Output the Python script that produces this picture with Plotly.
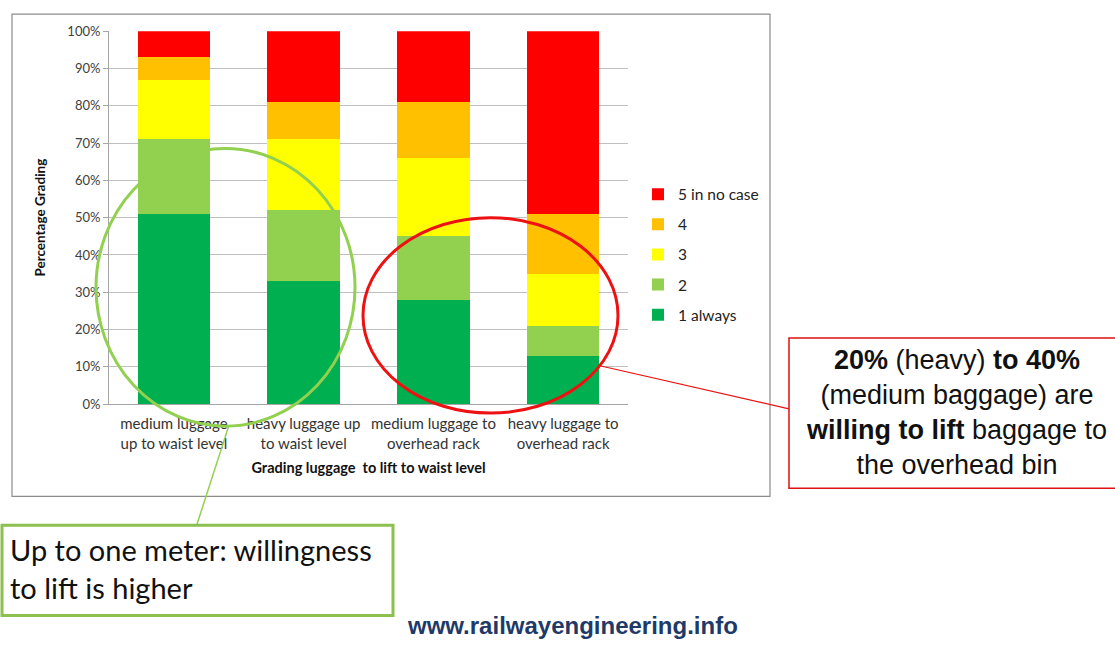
import plotly.graph_objects as go

W, H = 1115, 645
# measured placement of the page's drawing area inside the photographed window
Y_TOP, Y_SPAN = 7.8, 627.6

categories = ["medium luggage<br>up to waist level", "heavy luggage up<br>to waist level",
              "medium luggage to<br>overhead rack", "heavy luggage to<br>overhead rack"]
grade1 = [51, 33, 28, 13]
grade2 = [20, 19, 17, 8]
grade3 = [16, 19, 21, 14]
grade4 = [6, 10, 15, 16]
grade5 = [7, 19, 19, 49]
series_names = ["1 always", "2", "3", "4", "5 in no case"]
series_colors = ["#00b050", "#92d050", "#ffff00", "#ffc000", "#ff0000"]
series_values = [grade1, grade2, grade3, grade4, grade5]
y_ticks = [0, 10, 20, 30, 40, 50, 60, 70, 80, 90, 100]
y_ticklabels = [f"{t}%" for t in y_ticks]


def px(x):
    return x / W


def py(y):
    return 1 - (y - Y_TOP) / Y_SPAN


fig = go.Figure()
n = len(series_names)
for i, (name, col, vals) in enumerate(zip(series_names, series_colors, series_values)):
    fig.add_trace(go.Bar(x=categories, y=vals, name=name, marker_color=col,
                         marker_line_width=0, legendgroup=f"g{i}", legendrank=n - i))

base_font = "Lato, Carlito, sans-serif"
fig.update_layout(
    width=W, height=H, barmode="stack", bargap=0.44,
    margin=dict(l=0, r=0, t=0, b=0),
    paper_bgcolor="white", plot_bgcolor="white",
    font=dict(family=base_font, size=12, color="#222"),
    showlegend=True,
    legend=dict(x=px(638), y=py(177), xanchor="left", yanchor="top",
                tracegroupgap=7,
                font=dict(family=base_font, size=15.5, color="#222"),
                itemwidth=30, bgcolor="rgba(0,0,0,0)"),
    xaxis=dict(domain=[px(109), px(628)], showgrid=False, showline=True,
               linecolor="#a6a6a6", linewidth=1, ticks="", ticklabelstandoff=6,
               tickfont=dict(family=base_font, size=15, color="#333"),
               title=dict(text="<b>Grading luggage  to lift to waist level</b>",
                          font=dict(family=base_font, size=14.5, color="#111"), standoff=12)),
    yaxis=dict(domain=[py(403), py(31)], range=[0, 100], tickvals=y_ticks,
               ticktext=y_ticklabels, showgrid=True, gridcolor="#bfbfbf", gridwidth=1,
               showline=True, linecolor="#a6a6a6", ticks="outside", ticklen=5,
               tickcolor="#a6a6a6", tickfont=dict(family=base_font, size=13, color="#404040"),
               zeroline=False,
               title=dict(text="<b>Percentage Grading</b>",
                          font=dict(family=base_font, size=13.5, color="#111"), standoff=18)),
)

shapes = []
# chart frame
shapes.append(dict(type="rect", xref="paper", yref="paper", x0=px(12), x1=px(770),
                   y0=py(495), y1=py(14), line=dict(color="#8c8c8c", width=1.2)))
# green ellipse
shapes.append(dict(type="circle", xref="paper", yref="paper", x0=px(96), x1=px(355),
                   y0=py(425), y1=py(148), line=dict(color="#92d050", width=3)))
# red ellipse
shapes.append(dict(type="circle", xref="paper", yref="paper", x0=px(363), x1=px(618),
                   y0=py(412), y1=py(217), line=dict(color="#ee1111", width=3)))
# green connector
shapes.append(dict(type="line", xref="paper", yref="paper", x0=px(197), y0=py(523),
                   x1=px(229), y1=py(424), line=dict(color="#92d050", width=1.5)))
# red connector
shapes.append(dict(type="line", xref="paper", yref="paper", x0=px(601), y0=py(365),
                   x1=px(790), y1=py(408), line=dict(color="#ee1111", width=1.2)))
# green box
shapes.append(dict(type="rect", xref="paper", yref="paper", x0=px(2), x1=px(393),
                   y0=py(614), y1=py(524), line=dict(color="#8cc04f", width=3),
                   fillcolor="white"))
# red box
shapes.append(dict(type="rect", xref="paper", yref="paper", x0=px(789), x1=px(1125),
                   y0=py(487), y1=py(337), line=dict(color="#dd1111", width=1.5),
                   fillcolor="white"))
fig.update_layout(shapes=shapes)

annotations = [
    dict(xref="paper", yref="paper", x=px(8), y=py(567), xanchor="left", yanchor="middle",
         align="left", showarrow=False,
         text="Up to one meter: willingness<br>to lift is higher",
         font=dict(family="Lato, sans-serif", size=29, color="#111")),
    dict(xref="paper", yref="paper", x=px(956), y=py(411), xanchor="center", yanchor="middle",
         align="center", showarrow=False,
         text="<b>20%</b> (heavy) <b>to 40%</b><br>(medium baggage) are<br>"
              "<b>willing to lift</b> baggage to<br>the overhead bin",
         font=dict(family="Liberation Sans, Arial, sans-serif", size=27, color="#111")),
    dict(xref="paper", yref="paper", x=px(572), y=py(624), xanchor="center", yanchor="middle",
         showarrow=False, text="<b>www.railwayengineering.info</b>",
         font=dict(family="Liberation Sans, Arial, sans-serif", size=24, color="#1f3a68")),
]
fig.update_layout(annotations=annotations)

fig.write_html(
    "out.html",
    config={"displayModeBar": False},
    post_script=("document.body.style.margin='0';"
                 "document.documentElement.style.overflow='hidden';"
                 "document.body.style.overflow='hidden';"),
)
